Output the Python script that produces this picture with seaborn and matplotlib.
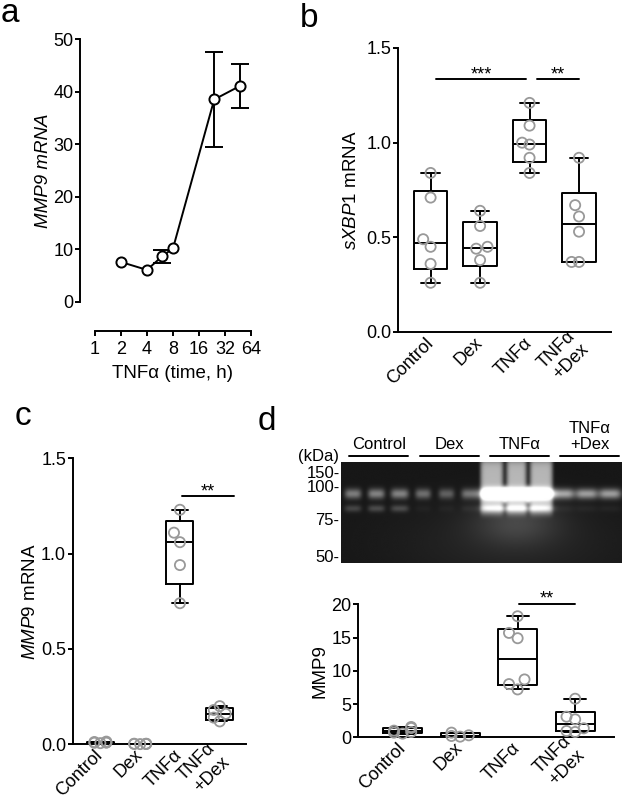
import warnings
import numpy as np
import pandas as pd
import matplotlib
matplotlib.use('Agg')
import matplotlib.pyplot as plt
from matplotlib.ticker import NullLocator
import seaborn as sns
import seaborn.categorical as sns_cat

warnings.filterwarnings('ignore')

# a) MMP9 mRNA ao longo do tempo de TNFa (erro 0 = barra escondida pelo simbolo)
tempo_h = [2, 4, 6, 8, 24, 48]
mmp9_media = [7.6, 6.1, 8.7, 10.2, 38.5, 41.1]
mmp9_erro = [0, 0, 1.2, 0, 9.0, 4.2]
tempo_ticks = [1, 2, 4, 8, 16, 32, 64]

grupos = ['Control', 'Dex', 'TNFα', 'TNFα\n+Dex']

# b) sXBP1 mRNA
sxbp1_control = [0.84, 0.71, 0.49, 0.45, 0.36, 0.26]
sxbp1_dex = [0.64, 0.56, 0.45, 0.44, 0.38, 0.26]
sxbp1_tnf = [1.21, 1.09, 1.00, 0.99, 0.92, 0.84]
sxbp1_tnf_dex = [0.92, 0.67, 0.61, 0.53, 0.37, 0.37]

# c) MMP9 mRNA
mmp9_control = [0.012, 0.008, 0.010, 0.006, 0.014, 0.009]
mmp9_dex = [0.003, 0.002, 0.001, 0.002, 0.003, 0.002]
mmp9_tnf = [1.23, 1.11, 1.06, 0.94, 0.74]
mmp9_tnf_dex = [0.20, 0.18, 0.16, 0.14, 0.12]

# d) zimografia MMP9
zimo_control = [1.55, 1.40, 1.00, 0.80, 0.70, 0.55]
zimo_dex = [0.70, 0.30, 0.20, 0.10]
zimo_tnf = [18.2, 15.7, 14.9, 8.7, 8.0, 7.2]
zimo_tnf_dex = [5.8, 3.1, 2.7, 1.35, 0.95, 0.80]

# gel: intensidade das bandas por poço (3 poços por grupo)
gel_banda_principal = [0.40, 0.42, 0.42, 0.34, 0.28, 0.36, 1.2, 1.2, 1.2, 0.55, 0.52, 0.52]
gel_banda_inferior = [0.18, 0.20, 0.20, 0.03, 0.03, 0.05, 0.30, 0.30, 0.30, 0.04, 0.04, 0.04]
gel_largura = [0.030, 0.030, 0.032, 0.028, 0.028, 0.030, 0.05, 0.05, 0.05, 0.040, 0.040, 0.040]
gel_arrasto = [0, 0, 0, 0, 0, 0, 0.62, 0.62, 0.62, 0, 0, 0]
kda = ['150', '100', '75', '50']
kda_posicao = [0.095, 0.24, 0.56, 0.93]

# barras de significancia (x1, x2, y, texto)
sig_b = [(0.11, 1.93, 1.335, '***'), (2.16, 3.0, 1.335, '**')]
sig_c = [(2.05, 3.35, 1.30, '**')]
sig_d = [(2.03, 2.99, 20.05, '**')]


# swarm mais estreito (os pontos se sobrepoem como no Prism)
class BeeswarmEstreito(sns_cat.Beeswarm):
    def __init__(self, orient="x", width=0.8, warn_thresh=.05):
        super().__init__(orient=orient, width=width * 0.375, warn_thresh=warn_thresh)


sns_cat.Beeswarm = BeeswarmEstreito

sns.set_theme(style='ticks', rc={
    'axes.linewidth': 1.4,
    'xtick.major.width': 1.4, 'ytick.major.width': 1.4,
    'xtick.major.size': 3.6, 'ytick.major.size': 3.6,
    'xtick.labelsize': 13, 'ytick.labelsize': 13,
    'ytick.major.pad': 1,
    'axes.labelsize': 13.5,
    'xtick.color': 'black', 'ytick.color': 'black',
    'axes.edgecolor': 'black', 'text.color': 'black', 'axes.labelcolor': 'black',
})
plt.rcParams['font.family'] = ['Liberation Sans', 'DejaVu Sans']
plt.rcParams['mathtext.fontset'] = 'custom'
plt.rcParams['mathtext.rm'] = 'Liberation Sans'
plt.rcParams['mathtext.it'] = 'Liberation Sans:italic'

W, H = 632, 800
fig = plt.figure(figsize=(W / 100, H / 100), dpi=100)


def eixo(esq, topo, dir, base):
    return fig.add_axes([esq / W, 1 - base / H, (dir - esq) / W, (base - topo) / H])


def painel_caixa(ax, valores, xlim, ylim, yticks, ylabel, sig, rotulo_x):
    df = pd.DataFrame({
        'grupo': np.repeat(grupos, [len(v) for v in valores]),
        'valor': np.concatenate(valores),
    })
    stats = []
    for v in valores:
        q1, med, q3 = np.percentile(v, [25, 50, 75], method='weibull')
        stats.append(dict(med=med, q1=q1, q3=q3, whislo=min(v), whishi=max(v), fliers=[]))
    linha = dict(color='black', linewidth=1.4)
    sns.swarmplot(data=df, x='grupo', y='valor', order=grupos, ax=ax, size=7.3,
                  color='0.6', facecolor='none', edgecolor='0.6', linewidth=1.3,
                  warn_thresh=1, clip_on=False, zorder=3)
    ax.bxp(stats, positions=range(len(grupos)), widths=0.68, capwidths=0.38,
           showfliers=False, manage_ticks=False, boxprops=linha, whiskerprops=linha,
           capprops=linha, medianprops=linha)
    ax.set_xlim(*xlim)
    ax.set_ylim(*ylim)
    ax.set_yticks(yticks)
    ax.set_xticks(range(len(grupos)))
    ax.set_xticklabels(grupos, rotation=45, ha='right', va='center', rotation_mode='anchor')
    ax.tick_params(axis='x', length=0, pad=6)
    ax.set_xlabel('')
    ax.set_ylabel(ylabel)
    ax.yaxis.set_label_coords(rotulo_x, 0.5)
    sns.despine(ax=ax)
    for x1, x2, y, txt in sig:
        ax.plot([x1, x2], [y, y], color='black', lw=1.4, clip_on=False)
        ax.text((x1 + x2) / 2, y, txt, ha='center', va='baseline', fontsize=13, clip_on=False)


# ---- painel a
ax_a = eixo(95, 39, 251, 302)
com_erro = np.array(mmp9_erro) > 0
ax_a.errorbar(np.array(tempo_h)[com_erro], np.array(mmp9_media)[com_erro],
              yerr=np.array(mmp9_erro)[com_erro], fmt='none', ecolor='black',
              elinewidth=1.4, capsize=6.5, capthick=1.4, zorder=2)
sns.lineplot(x=tempo_h, y=mmp9_media, ax=ax_a, color='black', lw=1.4, marker='o',
             markersize=7.3, markerfacecolor='white', markeredgecolor='black',
             markeredgewidth=1.4, errorbar=None, zorder=3, clip_on=False)
ax_a.set_xscale('log', base=2)
ax_a.set_xlim(1, 64)
ax_a.set_ylim(0, 50)
ax_a.set_xticks(tempo_ticks, [str(t) for t in tempo_ticks])
ax_a.xaxis.set_minor_locator(NullLocator())
ax_a.set_yticks([0, 10, 20, 30, 40, 50])
sns.despine(ax=ax_a)
ax_a.spines['left'].set_position(('outward', 10.8))
ax_a.spines['bottom'].set_position(('outward', 20.9))
ax_a.set_xlabel('TNFα (time, h)', labelpad=5)
ax_a.set_ylabel('MMP9 mRNA', fontstyle='italic')
ax_a.yaxis.set_label_coords(-0.275, 0.5)

# ---- painel b
ax_b = eixo(397.7, 48, 611, 332)
painel_caixa(ax_b, [sxbp1_control, sxbp1_dex, sxbp1_tnf, sxbp1_tnf_dex],
             (-0.665, 3.646), (0, 1.5), [0, 0.5, 1.0, 1.5],
             r'$\mathit{sXBP1}$ mRNA', sig_b, -0.179)
ax_b.set_yticklabels(['0.0', '0.5', '1.0', '1.5'])

# ---- painel c
ax_c = eixo(72.5, 458.3, 246, 744.3)
painel_caixa(ax_c, [mmp9_control, mmp9_dex, mmp9_tnf, mmp9_tnf_dex],
             (-0.70, 3.66), (0, 1.5), [0, 0.5, 1.0, 1.5],
             r'$\mathit{MMP9}$ mRNA', sig_c, -0.195)
ax_c.set_yticklabels(['0.0', '0.5', '1.0', '1.5'])

# ---- painel d: gel
ax_g = eixo(341, 462, 622, 563.3)
ny, nx = 160, 420
yy, xx = np.mgrid[0:1:ny * 1j, 0:1:nx * 1j]
img = 0.09 + 0.06 * np.exp(-((xx - 0.6) / 0.4) ** 2 - ((yy - 0.8) / 0.4) ** 2)
n_pocos = len(gel_banda_principal)
centros = (np.arange(n_pocos) + 0.5) / n_pocos
arrasto = np.zeros_like(xx)
for i in range(n_pocos):
    perfil = np.exp(-((xx - centros[i]) / gel_largura[i]) ** 4)
    img += gel_banda_principal[i] * perfil * np.exp(-((yy - 0.32) / 0.05) ** 2)
    img += gel_banda_inferior[i] * perfil * np.exp(-((yy - 0.465) / 0.035) ** 2)
    arrasto += gel_arrasto[i] * np.exp(-((xx - centros[i]) / 0.046) ** 8)
# arrasto nos poços de TNFa, com fendas escuras entre os poços fora da banda
fenda = np.zeros_like(xx)
for i in range(n_pocos - 1):
    if gel_arrasto[i] > 0 and gel_arrasto[i + 1] > 0:
        fenda += np.exp(-((xx - (centros[i] + centros[i + 1]) / 2) / 0.011) ** 2)
fora_banda = 1 - np.exp(-((yy - 0.33) / 0.085) ** 4)
img += arrasto * np.exp(-((yy - 0.24) / 0.28) ** 8) * (1 - 0.85 * fenda * fora_banda)
tnf = np.array(gel_arrasto) > 0
img += 0.15 * np.exp(-((xx - centros[tnf].mean()) / 0.15) ** 2 - ((yy - 0.6) / 0.22) ** 2)
ax_g.imshow(np.clip(img, 0, 1), cmap='gray', vmin=0, vmax=1, aspect='auto',
            extent=(0, 1, 1, 0), interpolation='bicubic')
ax_g.set_xticks([])
ax_g.set_yticks(kda_posicao, [k + '-' for k in kda], fontsize=12)
ax_g.tick_params(axis='y', length=0, pad=1)
for s in ax_g.spines.values():
    s.set_visible(False)
ax_g.text(-0.006, 1.052, '(kDa)', transform=ax_g.transAxes, ha='right', va='center', fontsize=12)
for k, g in enumerate(grupos):
    cxg = (k + 0.5) / len(grupos) + 0.01
    ax_g.plot([cxg - 0.105, cxg + 0.105], [1.062, 1.062], color='black', lw=1.4,
              transform=ax_g.transAxes, clip_on=False)
    for j, txt in enumerate(reversed(g.split('\n'))):
        ax_g.text(cxg, 1.126 + 0.164 * j, txt, transform=ax_g.transAxes,
                  ha='center', va='baseline', fontsize=12)

# ---- painel d: quantificacao
ax_d = eixo(357.7, 604.3, 613.7, 737.3)
painel_caixa(ax_d, [zimo_control, zimo_dex, zimo_tnf, zimo_tnf_dex],
             (-0.78, 3.67), (0, 20), [0, 5, 10, 15, 20],
             'MMP9', sig_d, -0.115)

# letras dos paineis
for letra, x, y in [('a', 1, 22.5), ('b', 300, 27.3), ('c', 15, 425), ('d', 258, 430)]:
    fig.text(x / W, 1 - y / H, letra, fontsize=24, ha='left', va='baseline')

fig.savefig('out.png', dpi=100)
